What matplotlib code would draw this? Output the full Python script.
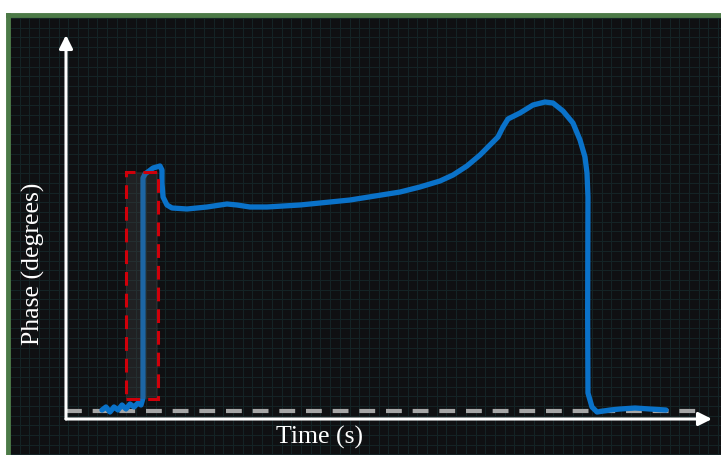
import matplotlib
matplotlib.use("Agg")
import matplotlib.pyplot as plt
import numpy as np
from matplotlib.patches import Rectangle

# phase trace, time in s, phase in arbitrary degrees units
time_s = [0.557, 0.619, 0.681, 0.743, 0.805, 0.867, 0.929, 0.991, 1.053, 1.115,
          1.161, 1.192, 1.192, 1.223, 1.347, 1.455, 1.486, 1.486, 1.502, 1.563,
          1.641, 1.873, 2.183, 2.492, 2.647, 2.848, 3.111, 3.622, 4.396, 5.170,
          5.480, 5.789, 5.991, 6.207, 6.409, 6.594, 6.687, 6.765, 6.842, 7.028,
          7.229, 7.415, 7.539, 7.693, 7.848, 7.957, 8.034, 8.065, 8.080, 8.075,
          8.080, 8.142, 8.220, 8.421, 8.576, 8.808, 9.040, 9.288]
phase = [2.34, 3.13, 1.82, 3.13, 2.34, 3.65, 2.60, 3.91, 3.13, 4.17,
         3.65, 5.47, 62.76, 63.80, 65.36, 65.89, 64.84, 61.46, 57.81, 55.73,
         54.95, 54.69, 55.21, 55.99, 55.73, 55.21, 55.21, 55.73, 57.03, 59.11,
         60.42, 61.98, 63.54, 65.89, 68.75, 71.88, 73.44, 76.04, 78.13, 79.69,
         81.77, 82.55, 82.29, 80.21, 77.08, 72.66, 68.23, 64.06, 57.81, 27.60,
         6.77, 3.13, 1.82, 2.34, 2.60, 2.86, 2.60, 2.34]

baseline_phase = 2.1
highlight_t = (0.93, 1.42)
highlight_phase = (5.2, 64.3)

BG = "#0f1012"
BLUE = "#0a72c9"

fig = plt.figure(figsize=(7.21, 4.55), dpi=100)
fig.patch.set_facecolor("white")

# dark panel with faint grid
frame = fig.add_axes([8 / 721, 0, 1 - 8 / 721, 440 / 455])
frame.set_facecolor(BG)
frame.set_xlim(0, 713)
frame.set_ylim(440, 0)
frame.set_xticks(np.arange(2, 713, 9.7))
frame.set_yticks(np.arange(3, 440, 9.7))
frame.tick_params(length=0, labelbottom=False, labelleft=False)
frame.grid(True, color="#152426", lw=0.7)
for side in ("right", "bottom"):
    frame.spines[side].set_visible(False)
for side in ("left", "top"):
    frame.spines[side].set_color("#4c7a47")
    frame.spines[side].set_linewidth(3.5)

ax = fig.add_axes([66 / 721, 36 / 455, 646 / 721, 384 / 455])
ax.set_facecolor("none")
ax.set_xlim(0, 10)
ax.set_ylim(0, 100)
ax.axis("off")

ax.axhline(baseline_phase, xmin=0.0, xmax=0.985, color="#a6a6a6", lw=3,
           dashes=(3.8, 2.6), zorder=2)

ax.plot(time_s, phase, color=BLUE, lw=3.8, solid_capstyle="round",
        solid_joinstyle="round", zorder=3)

w = highlight_t[1] - highlight_t[0]
h = highlight_phase[1] - highlight_phase[0]
ax.add_patch(Rectangle((highlight_t[0], highlight_phase[0]), w, h,
                       facecolor="#4a4a4c", alpha=0.3, edgecolor="none", zorder=4))
ax.add_patch(Rectangle((highlight_t[0], highlight_phase[0]), w, h,
                       facecolor="none", edgecolor="#d0000a", lw=2.2,
                       linestyle=(0, (4.5, 2.6)), zorder=5))

# axes drawn as white arrows
arrow = dict(arrowstyle="-|>", color="white", lw=2.2, mutation_scale=20,
             shrinkA=0, shrinkB=0)
ax.annotate("", xy=(1, 0), xytext=(0, 0), xycoords="axes fraction",
            arrowprops=arrow, annotation_clip=False)
ax.annotate("", xy=(0, 1), xytext=(0, 0), xycoords="axes fraction",
            arrowprops=arrow, annotation_clip=False)

fig.text(33 / 721, 1 - 264 / 455, "Phase (degrees)", rotation=90, color="white",
         fontfamily="Liberation Serif", fontsize=18.5, ha="center", va="center")
fig.text(320 / 721, 1 - 437 / 455, "Time (s)", color="white",
         fontfamily="Liberation Serif", fontsize=18.5, ha="center", va="center")

fig.savefig("out.png", dpi=100)
